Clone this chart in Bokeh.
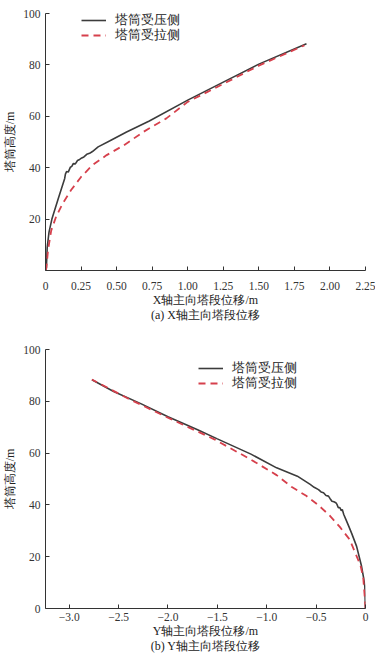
from bokeh.plotting import figure
from bokeh.layouts import column
from bokeh.models import Range1d, FixedTicker, Legend, LegendItem
from bokeh.embed import file_html
from bokeh.resources import INLINE

# ---------------- data: (a) X direction ----------------
xa_comp = [0, 0.006, 0.012, 0.025, 0.045, 0.09, 0.135, 0.14, 0.148, 0.16, 0.175, 0.185,
           0.195, 0.21, 0.225, 0.24, 0.255, 0.27, 0.29, 0.31, 0.33, 0.37, 0.45, 0.57,
           0.73, 1.0, 1.25, 1.5, 1.835]
ya_comp = [0, 1, 9, 15, 20, 28, 35.8, 37.5, 38.5, 38.3, 40.2, 40.5,
           41.6, 41.5, 42.8, 43.2, 43.8, 44.2, 45.2, 45.6, 46.3, 48.1, 50.4, 53.9,
           58.2, 66.3, 73.3, 80.3, 88.2]
xa_tens = [0, 0.006, 0.018, 0.04, 0.075, 0.12, 0.18, 0.25, 0.33, 0.43, 0.55, 0.69,
           0.85, 1.0, 1.25, 1.5, 1.82]
ya_tens = [0, 1, 8, 15.5, 21, 26, 31.3, 36.4, 41, 44.9, 48.7, 54,
           59.2, 65.6, 72.6, 79.7, 87.6]

# ---------------- data: (b) Y direction ----------------
xb_comp = [0, -0.003, -0.007, -0.02, -0.04, -0.09, -0.14, -0.17, -0.2, -0.22, -0.235,
           -0.245, -0.26, -0.275, -0.29, -0.3, -0.32, -0.34, -0.36, -0.375, -0.4,
           -0.425, -0.45, -0.476, -0.52, -0.56, -0.69, -0.9, -1.16, -1.5, -1.7,
           -2.0, -2.27, -2.55, -2.77]
yb_comp = [0, 3, 8.6, 12, 16.3, 24, 29, 31.8, 34.5, 36.3, 38.2,
           37.8, 39, 38.9, 40.3, 40.8, 41.2, 41.4, 42.5, 43.4, 43.6,
           44.7, 45.0, 45.9, 46.8, 47.9, 51.1, 54.3, 59.6, 65.5, 69,
           74, 79, 83.8, 88.3]
xb_tens = [0, -0.005, -0.023, -0.05, -0.09, -0.16, -0.26, -0.36, -0.48, -0.6, -0.75,
           -0.9, -1.16, -1.53, -2.03, -2.4, -2.77]
yb_tens = [0, 3, 12, 16.5, 20.2, 26.6, 31.5, 35.8, 40, 43.5, 47,
           51.5, 57.5, 65.3, 74.2, 81, 88.4]

series_names = ["塔筒受压侧", "塔筒受拉侧"]

xa_ticks = [0, 0.25, 0.5, 0.75, 1.0, 1.25, 1.5, 1.75, 2.0, 2.25]
xa_labels = ["0", "0.25", "0.50", "0.75", "1.00", "1.25", "1.50", "1.75", "2.00", "2.25"]
ya_ticks = [20, 40, 60, 80, 100]
xb_ticks = [-3.0, -2.5, -2.0, -1.5, -1.0, -0.5, 0]
xb_labels = ["\u22123.0", "\u22122.5", "\u22122.0", "\u22121.5", "\u22121.0", "\u22120.5", "0"]
yb_ticks = [0, 20, 40, 60, 80, 100]

x_title_a = "X轴主向塔段位移/m"
x_title_b = "Y轴主向塔段位移/m"
y_title = "塔筒高度/m"
cap_a = "(a) X轴主向塔段位移"
cap_b = "(b) Y轴主向塔段位移"

FONT = "Liberation Serif"
DARK = "#3c3c3c"
RED = "#d6404c"
ROW_H = 20


def make_fig(xs1, ys1, xs2, ys2, xr, xticks, xlabels, yticks, xtitle, caption,
             frame_h, top_border, leg_x, row_offsets, tick_standoff, label_standoff):
    p = figure(frame_width=320, frame_height=frame_h, x_range=Range1d(*xr),
               y_range=Range1d(0, 100), output_backend="svg", toolbar_location=None,
               min_border_left=41, min_border_right=10, min_border_top=top_border,
               min_border_bottom=0)
    p.outline_line_color = None
    p.grid.visible = False
    p.background_fill_color = "white"
    r1 = p.line(xs1, ys1, line_color=DARK, line_width=1.6)
    r2 = p.line(xs2, ys2, line_color=RED, line_width=1.8, line_dash="7 5")

    for ax in (p.xaxis[0], p.yaxis[0]):
        ax.axis_line_color = "#333333"
        ax.major_tick_line_color = "#333333"
        ax.major_tick_in = 4
        ax.major_tick_out = 0
        ax.minor_tick_line_color = None
        ax.major_label_text_font = FONT
        ax.major_label_text_font_size = "11.5px"
        ax.major_label_text_color = "#333333"
        ax.axis_label_text_font = FONT
        ax.axis_label_text_font_size = "12px"
        ax.axis_label_text_font_style = "normal"
        ax.axis_label_text_color = "#222222"
        ax.axis_label_text_line_height = 1.1

    p.xaxis.ticker = FixedTicker(ticks=xticks)
    p.xaxis.major_label_overrides = {t: l for t, l in zip(xticks, xlabels)}
    p.xaxis.major_label_standoff = tick_standoff
    p.xaxis.axis_label = xtitle + "\n" + caption
    p.xaxis.axis_label_standoff = label_standoff
    p.yaxis.ticker = FixedTicker(ticks=yticks)
    p.yaxis.major_label_standoff = 5
    p.yaxis.axis_label = y_title
    p.yaxis.axis_label_standoff = 3

    for name, rend, off in zip(series_names, (r1, r2), row_offsets):
        leg = Legend(items=[LegendItem(label=name, renderers=[rend])],
                     location=(leg_x, frame_h - (off - ROW_H / 2) - ROW_H),
                     border_line_color=None, background_fill_alpha=0,
                     padding=0, margin=0, spacing=0, glyph_width=25, glyph_height=14,
                     label_height=14, label_standoff=9, label_text_font=FONT,
                     label_text_font_size="13px", label_text_color="#222222")
        p.add_layout(leg)
    return p


p1 = make_fig(xa_comp, ya_comp, xa_tens, ya_tens, (0, 2.25), xa_ticks, xa_labels,
              ya_ticks, x_title_a, cap_a, 257, 13, 36, (6, 21), 11, 0)
p2 = make_fig(xb_comp, yb_comp, xb_tens, yb_tens, (-3.24, 0), xb_ticks, xb_labels,
              yb_ticks, x_title_b, cap_b, 259, 25, 153, (18, 33), 4, 0)

layout = column(p1, p2, spacing=0)
open("out.html", "w").write(file_html(layout, INLINE))
